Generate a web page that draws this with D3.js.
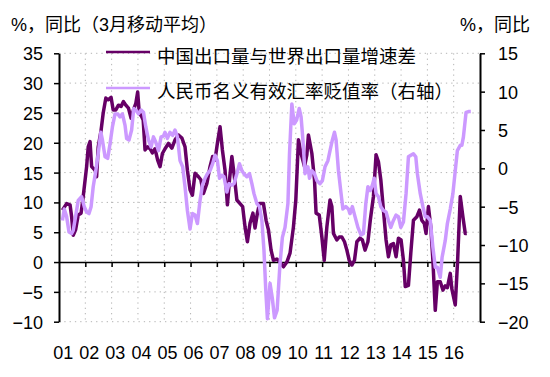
<!DOCTYPE html>
<html><head><meta charset="utf-8">
<script src="https://cdn.jsdelivr.net/npm/d3@7/dist/d3.min.js"></script>
<style>
html,body{margin:0;padding:0;background:#fff;}
svg{display:block;}
</style></head>
<body>
<script>
// ---- data ----
const titleLeft = "%，同比（3月移动平均）";
const titleRight = "%，同比";
const seriesNames = ["中国出口量与世界出口量增速差", "人民币名义有效汇率贬值率（右轴）"];
const yearTicks = [2001,2002,2003,2004,2005,2006,2007,2008,2009,2010,2011,2012,2013,2014,2015,2016];
const yearLabels = ["01","02","03","04","05","06","07","08","09","10","11","12","13","14","15","16"];
const leftTicks = [-10,-5,0,5,10,15,20,25,30,35];
const rightTicks = [-20,-15,-10,-5,0,5,10,15];

// China export volume growth minus world export volume growth (left axis)
const chinaT = [2001.13,2001.29,2001.42,2001.48,2001.54,2001.63,2001.73,2001.84,2001.92,2002.05,
2002.11,2002.18,2002.24,2002.37,2002.43,2002.49,2002.60,2002.68,2002.78,2002.87,
2002.98,2003.06,2003.16,2003.26,2003.36,2003.45,2003.54,2003.64,2003.74,2003.83,
2003.92,2003.99,2004.05,2004.14,2004.20,2004.27,2004.37,2004.46,2004.55,2004.65,
2004.75,2004.84,2004.93,2005.03,2005.16,2005.29,2005.41,2005.54,2005.67,2005.79,
2005.88,2005.98,2006.07,2006.17,2006.30,2006.39,2006.49,2006.62,2006.74,2006.84,
2006.93,2007.02,2007.12,2007.21,2007.31,2007.40,2007.48,2007.57,2007.65,2007.76,
2007.88,2007.98,2008.07,2008.16,2008.26,2008.37,2008.45,2008.54,2008.62,2008.77,
2008.87,2008.96,2009.06,2009.15,2009.28,2009.40,2009.53,2009.66,2009.78,2009.91,
2010.00,2010.10,2010.20,2010.33,2010.42,2010.48,2010.61,2010.71,2010.77,2010.89,
2010.99,2011.08,2011.18,2011.30,2011.37,2011.43,2011.56,2011.65,2011.75,2011.85,
2011.94,2012.03,2012.13,2012.23,2012.32,2012.44,2012.53,2012.63,2012.74,2012.83,
2012.95,2013.05,2013.14,2013.23,2013.33,2013.43,2013.52,2013.61,2013.71,2013.81,
2013.90,2014.00,2014.09,2014.16,2014.28,2014.37,2014.47,2014.60,2014.70,2014.79,
2014.88,2014.95,2015.04,2015.13,2015.21,2015.30,2015.38,2015.49,2015.59,2015.68,
2015.76,2015.87,2015.93,2016.06,2016.15,2016.25,2016.35,2016.44,2016.50];
const chinaDiff = [8.7,9.8,9.6,7.6,4.5,5.4,7.9,8.2,11,16,
19.3,20.2,16,15.4,14.3,19.3,22.1,25,27.5,27.2,
27.6,25.5,25.5,26.3,26.1,26.9,26.3,25.8,24.1,25.5,
26.6,28.5,25,24.4,23.8,18.8,19.3,19.0,18.3,19.0,
17.1,16,18.2,19,19.9,19.1,20.5,21.3,20.8,19.3,
15.4,12.1,11.2,14.9,14.3,13.8,11.5,13.2,16,17.7,
17.1,19.9,22.7,18.8,15.4,9.6,13.8,17.7,14.9,10.4,
9.8,9.3,5.9,3.4,6.5,8.2,5.7,8.2,9.8,9.8,
7,5.4,2,0.3,0.5,0,-0.8,0,1.5,5.9,
10.4,20.5,18.2,16,18,21.3,18.2,13.8,8.2,7.9,
4.2,0.3,5.9,10.4,9.3,4.8,3.7,4.2,4.2,3.4,
2,0.3,-0.5,0.3,3.4,4,3.7,2,3.4,7,
11,18,16.8,13.8,8.7,3.7,0.9,2.9,3.1,0.9,
4,3.7,0.3,-4.1,-3.9,1.5,7,7.6,8.7,7,
6.5,4.8,9.3,5.9,0.3,-8.1,-3.3,-3.3,-4.7,-4.0,
-4.3,-1.9,-4.5,-7.2,0.3,11,7.6,4.8,4.8];

// RMB nominal effective exchange rate depreciation (right axis)
const rmbT = [2001.13,2001.20,2001.29,2001.38,2001.48,2001.54,2001.63,2001.73,2001.86,2001.96,
2002.05,2002.14,2002.22,2002.30,2002.40,2002.49,2002.59,2002.65,2002.75,2002.85,
2002.94,2003.03,2003.13,2003.23,2003.32,2003.41,2003.51,2003.57,2003.66,2003.76,
2003.84,2003.92,2004.02,2004.12,2004.21,2004.30,2004.40,2004.50,2004.59,2004.68,
2004.78,2004.88,2004.97,2005.03,2005.12,2005.22,2005.32,2005.41,2005.50,2005.60,
2005.70,2005.79,2005.88,2005.98,2006.07,2006.17,2006.26,2006.36,2006.45,2006.55,
2006.64,2006.74,2006.84,2006.93,2007.02,2007.10,2007.19,2007.27,2007.38,2007.46,
2007.57,2007.65,2007.76,2007.86,2007.95,2008.03,2008.14,2008.24,2008.33,2008.41,
2008.52,2008.62,2008.71,2008.79,2008.86,2008.92,2009.02,2009.11,2009.19,2009.29,
2009.40,2009.49,2009.59,2009.70,2009.76,2009.85,2009.94,2010.03,2010.13,2010.20,
2010.27,2010.35,2010.46,2010.52,2010.61,2010.71,2010.80,2010.92,2011.01,2011.11,
2011.22,2011.30,2011.39,2011.47,2011.53,2011.62,2011.72,2011.79,2011.90,2012.00,
2012.06,2012.15,2012.25,2012.36,2012.48,2012.57,2012.66,2012.74,2012.83,2012.91,
2012.98,2013.05,2013.14,2013.23,2013.33,2013.43,2013.52,2013.61,2013.71,2013.81,
2013.90,2013.99,2014.09,2014.19,2014.28,2014.37,2014.47,2014.56,2014.62,2014.73,
2014.83,2014.92,2015.00,2015.11,2015.21,2015.30,2015.38,2015.49,2015.56,2015.68,
2015.76,2015.87,2015.97,2016.06,2016.14,2016.25,2016.31,2016.37,2016.47,2016.56,
2016.65];
const rmbDepr = [-6.8,-5.3,-6.3,-8.3,-8.5,-8.1,-6.3,-4.2,-3.7,-5.0,
-5.7,-5.9,-5.0,-2.4,-0.3,1.9,4.7,3.7,1.5,1.3,
3.2,5.4,7.1,7.1,6.7,7.1,5.6,3.9,3.7,5.0,
7.8,7.6,7.1,7.6,7.3,5.4,3.7,2.8,4.1,3.4,
2.3,4.1,4.2,4.7,3.9,4.7,4.3,5.0,4.1,1.0,
0.2,-2.4,-5.5,-7.9,-5.9,-6.1,-7.2,-4.2,-2.2,-1.3,
-0.7,-0.3,0.6,1.7,1.0,-1.3,-0.9,-1.1,-3.1,-2.0,
-2.2,-2.0,-0.7,0.6,-0.3,-0.7,-1.1,-0.7,-2.0,-3.3,
-4.6,-5.0,-6.8,-10.7,-16,-19.6,-15,-17,-19.5,-18.5,
-12.4,-9.0,-7.7,-4.6,1.9,8.4,5.8,6.3,7.8,6.7,
3.7,-0.7,0.2,-1.3,-0.3,-0.7,-1.6,-2.0,-1.6,0.2,
1.0,2.3,3.7,4.7,3.7,-0.3,-3.3,-5.3,-5.0,-5.3,
-5.9,-5.0,-6.3,-7.7,-8.7,-8.5,-4.6,-2.4,-2.9,-2.2,
-1.3,-3.3,-3.7,-5.0,-5.5,-5.7,-6.8,-7.7,-6.8,-6.1,
-6.3,-7.7,-7.0,-3.3,1.5,1.7,1.9,1.5,-0.7,-3.3,
-5.0,-6.3,-6.3,-6.8,-10.3,-12.9,-12.9,-14.2,-11.6,-9.4,
-7.2,-5.3,-3.3,-0.3,2.3,3.0,3.0,4.1,7.3,7.4,
7.4];

// ---- layout ----
const W = 550, H = 377;
const L = 59, R = 480, T = 53.3, B = 321.7;
const darkColor = "#660066", lightColor = "#CC99FF";
const latin = "'Liberation Sans', Arial, 'Noto Sans CJK SC', sans-serif";

const svg = d3.select("body").append("svg").attr("width", W).attr("height", H);
svg.append("rect").attr("width", W).attr("height", H).attr("fill", "#fff");

const x = d3.scaleLinear().domain([2001, 2017]).range([L, R]);
const yL = d3.scaleLinear().domain([-10, 35]).range([B, T]);
const yR = d3.scaleLinear().domain([-20, 15]).range([B, T]);
const xLab = d3.scalePoint().domain(yearLabels).range([63.3, 453.9]);

// grid
const grid = svg.append("g").attr("stroke", "#b4b4b4").attr("stroke-width", 1).attr("stroke-dasharray", "1.3,4");
grid.selectAll("line.h").data(leftTicks.filter(d => d !== 0)).join("line")
  .attr("x1", L).attr("x2", R).attr("y1", d => yL(d)).attr("y2", d => yL(d));
grid.selectAll("line.v").data(yearTicks.slice(1)).join("line").attr("class","v")
  .attr("x1", d => x(d)).attr("x2", d => x(d)).attr("y1", T).attr("y2", B);

// left axis
const axL = svg.append("g").attr("transform", `translate(${L},0)`)
  .call(d3.axisLeft(yL).tickValues(leftTicks).tickSize(5).tickSizeOuter(0).tickFormat(d3.format("d")));
axL.select(".domain").attr("stroke", "#000").attr("stroke-width", 2);
axL.selectAll(".tick line").attr("stroke", "#000").attr("stroke-width", 1.5);
axL.selectAll(".tick text").attr("x", -16).attr("dy", "0.36em")
  .attr("font-family", latin).attr("font-size", 18).attr("fill", "#000");

// right axis
const axR = svg.append("g").attr("transform", `translate(${R},0)`)
  .call(d3.axisRight(yR).tickValues(rightTicks).tickSize(5).tickSizeOuter(0).tickFormat(d3.format("d")));
axR.select(".domain").attr("stroke", "#000").attr("stroke-width", 2);
axR.selectAll(".tick line").attr("stroke", "#000").attr("stroke-width", 1.5);
axR.selectAll(".tick text").attr("x", 18).attr("dy", "0.36em")
  .attr("font-family", latin).attr("font-size", 18).attr("fill", "#000");

// x axis on zero line
const axX = svg.append("g").attr("transform", `translate(0,${yL(0)})`)
  .call(d3.axisBottom(x).tickValues(yearTicks.slice(1)).tickSize(5).tickSizeOuter(0).tickFormat(""));
axX.select(".domain").attr("stroke", "#000").attr("stroke-width", 1.5);
axX.selectAll(".tick line").attr("stroke", "#000").attr("stroke-width", 1.5);

// x labels
svg.append("g").selectAll("text").data(yearLabels).join("text")
  .attr("x", d => xLab(d)).attr("y", 359.3).attr("text-anchor", "middle")
  .attr("font-family", latin).attr("font-size", 18).attr("fill", "#000").text(d => d);

// lines
const darkData = chinaT.map((t, i) => [t, chinaDiff[i]]);
const lightData = rmbT.map((t, i) => [t, rmbDepr[i]]);
svg.append("path").datum(darkData)
  .attr("d", d3.line().x(d => x(d[0])).y(d => yL(d[1])))
  .attr("fill", "none").attr("stroke", darkColor).attr("stroke-width", 3.5).attr("stroke-linejoin", "round");
svg.append("path").datum(lightData)
  .attr("d", d3.line().x(d => x(d[0])).y(d => yR(d[1])))
  .attr("fill", "none").attr("stroke", lightColor).attr("stroke-width", 3.5).attr("stroke-linejoin", "round");

// titles
svg.append("text").attr("x", 11).attr("y", 30.5).attr("font-family", latin)
  .attr("font-size", 18).attr("fill", "#000").text(titleLeft);
svg.append("text").attr("x", 530).attr("y", 30.5).attr("text-anchor", "end").attr("font-family", latin)
  .attr("font-size", 18).attr("fill", "#000").text(titleRight);

// legend
const legend = svg.append("g");
const legY = [52, 88], legTextY = [62.5, 98.3];
[darkColor, lightColor].forEach((c, i) => {
  legend.append("line").attr("x1", 106).attr("x2", 150).attr("y1", legY[i]).attr("y2", legY[i])
    .attr("stroke", c).attr("stroke-width", 2.5);
  legend.append("text").attr("x", 157).attr("y", legTextY[i]).attr("font-family", "'Noto Sans CJK SC', sans-serif")
    .attr("font-size", 18.5).attr("fill", "#000").text(seriesNames[i]);
});
</script>
</body></html>
